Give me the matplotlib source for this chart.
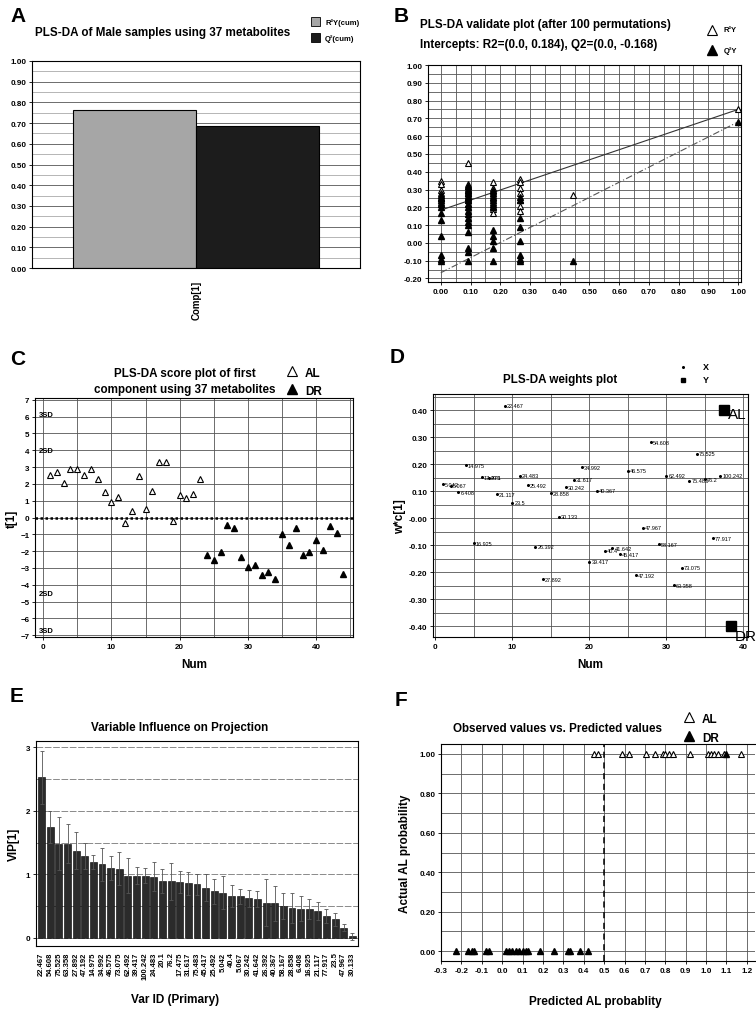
import matplotlib.pyplot as plt
from matplotlib.lines import Line2D
from matplotlib.patches import Rectangle
import numpy as np

plt.rcParams['font.family'] = ['Liberation Sans', 'DejaVu Sans']
plt.rcParams['font.weight'] = 'bold'
plt.rcParams['axes.labelweight'] = 'bold'

# ---------------- data ----------------
# A: cumulative R2Y / Q2 for component 1
comp_labels = ['R²Y(cum)', 'Q²(cum)']
comp_values = [0.765, 0.685]

# B: permutation test
r2_intercept = 0.184
q2_intercept = -0.168
perm_r2_x = [0.0] * 8 + [0.09] * 12 + [0.175] * 9 + [0.265] * 7 + [0.445, 1.0]
perm_r2 = [0.35, 0.33, 0.30, 0.28, 0.26, 0.25, 0.23, 0.22,
           0.45, 0.33, 0.32, 0.31, 0.30, 0.29, 0.28, 0.27, 0.26, 0.25, 0.24, 0.22,
           0.34, 0.31, 0.29, 0.27, 0.25, 0.23, 0.21, 0.19, 0.17,
           0.36, 0.34, 0.31, 0.28, 0.24, 0.21, 0.18,
           0.27, 0.75]
perm_q2_x = [0.0] * 11 + [0.09] * 16 + [0.175] * 11 + [0.265] * 8 + [0.445, 1.0]
perm_q2 = [0.27, 0.25, 0.24, 0.22, 0.20, 0.17, 0.13, 0.04, -0.07, -0.09, -0.10,
           0.32, 0.30, 0.28, 0.26, 0.24, 0.22, 0.20, 0.18, 0.16, 0.14, 0.12, 0.10, 0.06, -0.03, -0.05, -0.10,
           0.30, 0.28, 0.26, 0.24, 0.22, 0.20, 0.07, 0.04, 0.01, -0.03, -0.10,
           0.26, 0.24, 0.14, 0.09, 0.01, -0.07, -0.09, -0.10,
           -0.10, 0.68]

# C: scores t[1]
al_num = list(range(1, 24))
al_score = [2.5, 2.7, 2.05, 2.9, 2.9, 2.55, 2.9, 2.3, 1.5, 0.9, 1.2, -0.3, 0.4,
            2.45, 0.5, 1.6, 3.3, 3.3, -0.2, 1.35, 1.15, 1.4, 2.3]
dr_num = list(range(24, 45))
dr_score = [-2.2, -2.5, -2.05, -0.45, -0.65, -2.35, -2.95, -2.85, -3.4, -3.25, -3.65,
            -1.0, -1.65, -0.6, -2.2, -2.05, -1.35, -1.95, -0.5, -0.9, -3.35]
sd_labels = ['3SD', '2SD', '2SD', '3SD']
sd_levels = [6.1, 4.0, -4.5, -6.7]

# D: weights w*c[1]
var_ids = ['5.042', '5.067', '6.408', '14.975', '16.925', '17.475', '20.1', '21.117',
           '22.467', '23.5', '24.483', '25.492', '26.392', '27.892', '28.858', '30.133',
           '30.242', '31.617', '34.992', '39.417', '40.367', '40.4', '41.642', '45.417',
           '46.575', '47.192', '47.967', '54.608', '58.167', '62.492', '63.358', '73.075',
           '75.483', '75.525', '76.2', '77.917', '100.242']
var_weight = [0.125, 0.12, 0.097, 0.196, -0.092, 0.151, 0.15, 0.089,
              0.416, 0.058, 0.158, 0.122, -0.106, -0.227, 0.093, 0.005,
              0.114, 0.143, 0.189, -0.161, 0.102, -0.12, -0.112, -0.134,
              0.176, -0.212, -0.035, 0.282, -0.096, 0.158, -0.248, -0.184,
              0.139, 0.238, 0.145, -0.075, 0.158]
y_names = ['AL', 'DR']
y_num = [37.5, 38.4]
y_weight = [0.40, -0.40]

# E: VIP
vip_ids = ['22.467', '54.608', '75.525', '63.358', '27.892', '47.192', '14.975', '34.992',
           '46.575', '73.075', '62.492', '39.417', '100.242', '24.483', '20.1', '76.2',
           '17.475', '31.617', '75.483', '45.417', '25.492', '5.042', '40.4', '5.067',
           '30.242', '41.642', '26.392', '40.367', '58.167', '28.858', '6.408', '16.925',
           '21.117', '77.917', '23.5', '47.967', '30.133']
vip = [2.53, 1.74, 1.48, 1.48, 1.37, 1.29, 1.19, 1.16, 1.10, 1.09, 0.98, 0.98, 0.98,
       0.96, 0.89, 0.89, 0.88, 0.86, 0.84, 0.79, 0.73, 0.71, 0.66, 0.65, 0.62, 0.61,
       0.55, 0.54, 0.50, 0.47, 0.46, 0.45, 0.42, 0.34, 0.29, 0.16, 0.02]
vip_err = [0.42, 0.25, 0.42, 0.31, 0.29, 0.20, 0.11, 0.26, 0.19, 0.26, 0.27, 0.14, 0.12,
           0.23, 0.19, 0.29, 0.17, 0.18, 0.16, 0.21, 0.20, 0.26, 0.17, 0.12, 0.14, 0.13,
           0.37, 0.28, 0.21, 0.23, 0.20, 0.16, 0.14, 0.11, 0.10, 0.05, 0.05]

# F: observed vs predicted
al_pred = [0.452, 0.469, 0.587, 0.62, 0.707, 0.748, 0.789, 0.80, 0.82, 0.838, 0.92,
           1.01, 1.025, 1.04, 1.06, 1.09, 1.17]
al_obs = [1.0] * len(al_pred)
dr_pred = [-0.228, -0.167, -0.149, -0.138, -0.08, -0.064, 0.018, 0.034, 0.05, 0.067,
           0.084, 0.10, 0.116, 0.128, 0.185, 0.252, 0.321, 0.334, 0.384, 0.42, 1.10]
dr_obs = [0.0] * 20 + [1.0]

# ---------------- figure ----------------
W, H = 756, 1012
fig = plt.figure(figsize=(W / 100, H / 100), dpi=100)


def px_axes(l, t, r, b):
    return fig.add_axes([l / W, 1 - b / H, (r - l) / W, (b - t) / H])


def px_text(x, y, s, **kw):
    fig.text(x / W, 1 - y / H, s, **kw)


def px_marker(x, y, **kw):
    fig.add_artist(Line2D([x / W], [1 - y / H], transform=fig.transFigure, **kw))


grid_kw = dict(color='#555555', lw=0.6)
open_tri = dict(marker='^', mfc='white', mec='black', mew=0.8, ls='none')
full_tri = dict(marker='^', mfc='black', mec='black', ls='none')


def style(ax):
    for s in ax.spines.values():
        s.set_color('black')
        s.set_linewidth(0.8)
    ax.tick_params(labelsize=5.8, length=2, width=0.6, pad=2)
    for lab in ax.get_xticklabels() + ax.get_yticklabels():
        lab.set_fontweight('bold')
    ax.set_axisbelow(True)


panel_kw = dict(fontsize=15, fontweight='bold', va='center', ha='left')
title_kw = dict(fontsize=8.4, fontweight='bold', va='center')

# ---- A ----
axA = px_axes(32, 62, 360, 269)
axA.bar([-0.5, 0.5], comp_values, width=1.0, color=['#a6a6a6', '#1c1c1c'],
        edgecolor='black', linewidth=0.8)
axA.set_xlim(-1.33, 1.33)
axA.set_ylim(0, 1.0)
axA.set_yticks(np.arange(0, 1.01, 0.1))
axA.set_yticklabels([f'{v:.2f}' for v in np.arange(0, 1.01, 0.1)])
axA.set_yticks(np.arange(0.05, 1.0, 0.1), minor=True)
axA.grid(axis='y', which='major', **grid_kw)
axA.grid(axis='y', which='minor', color='#999999', lw=0.5)
axA.set_xticks([])
axA.tick_params(axis='y', which='minor', length=0)
style(axA)
px_text(197, 300, 'Comp[1]', fontsize=7, rotation=90, ha='center', va='center')
px_text(10, 17, 'A', **panel_kw)
px_text(35, 33, 'PLS-DA of Male samples using 37 metabolites', ha='left', **title_kw)
fig.add_artist(Rectangle(((311) / W, 1 - 27 / H), 9 / W, 9 / H, transform=fig.transFigure,
                         facecolor='#a6a6a6', edgecolor='black', lw=0.6))
fig.add_artist(Rectangle(((311) / W, 1 - 43 / H), 9 / W, 9 / H, transform=fig.transFigure,
                         facecolor='#1c1c1c', edgecolor='black', lw=0.6))
px_text(325, 23, comp_labels[0], fontsize=5.5, ha='left', va='center')
px_text(325, 39, comp_labels[1], fontsize=5.5, ha='left', va='center')

# ---- B ----
axB = px_axes(428, 66, 741, 283)
axB.plot([0, perm_r2_x[-1]], [r2_intercept, perm_r2[-1]], color='#333333', lw=0.8)
axB.plot([0, perm_q2_x[-1]], [q2_intercept, perm_q2[-1]], color='#555555', lw=0.8,
         ls=(0, (6, 2, 1, 2)))
axB.plot(perm_r2_x, perm_r2, ms=4, **open_tri)
axB.plot(perm_q2_x, perm_q2, ms=4, **full_tri)
axB.set_xlim(-0.043, 1.01)
axB.set_ylim(-0.22, 1.0)
axB.set_xticks(np.arange(0, 1.01, 0.1))
axB.set_xticklabels([f'{v:.2f}' for v in np.arange(0, 1.01, 0.1)])
axB.set_yticks(np.arange(-0.2, 1.01, 0.1))
axB.set_yticklabels([f'{v:.2f}' for v in np.arange(-0.2, 1.01, 0.1)])
axB.set_xticks(np.arange(0.05, 1.0, 0.1), minor=True)
axB.set_yticks(np.arange(-0.15, 1.0, 0.1), minor=True)
axB.grid(which='both', **grid_kw)
axB.tick_params(which='minor', length=0)
style(axB)
px_text(394, 17, 'B', **panel_kw)
px_text(420, 25, 'PLS-DA validate plot (after 100 permutations)', ha='left', **title_kw)
px_text(420, 45, 'Intercepts: R2=(0.0, 0.184), Q2=(0.0, -0.168)', ha='left', **title_kw)
px_marker(712, 31, ms=7, **open_tri)
px_marker(712, 51, ms=7, **full_tri)
px_text(724, 31, 'R²Y', fontsize=5.5, ha='left', va='center')
px_text(724, 51, 'Q²Y', fontsize=5.5, ha='left', va='center')

# ---- C ----
axC = px_axes(35, 399, 353, 638)
axC.axhline(0, color='black', ls=(0, (1, 1)), lw=1.8)
axC.plot(al_num, al_score, ms=5, **open_tri)
axC.plot(dr_num, dr_score, ms=5, **full_tri)
for lab, lev in zip(sd_labels, sd_levels):
    axC.text(-0.7, lev, lab, fontsize=5.5, ha='left', va='center')
axC.set_xlim(-1.2, 45.4)
axC.set_ylim(-7.1, 7.1)
axC.set_xticks(range(0, 41, 10))
axC.set_xticks(range(5, 46, 10), minor=True)
axC.set_yticks(range(-7, 8))
axC.grid(which='both', **grid_kw)
axC.tick_params(which='minor', length=0)
axC.set_xlabel('Num', fontsize=8.5, labelpad=6)
axC.set_ylabel('t[1]', fontsize=8.5, labelpad=2)
style(axC)
px_text(10, 360, 'C', **panel_kw)
px_text(185, 374, 'PLS-DA score plot of first', ha='center', **title_kw)
px_text(185, 390, 'component using 37 metabolites', ha='center', **title_kw)
px_marker(292, 372, ms=7, **open_tri)
px_marker(292, 390, ms=7, **full_tri)
px_text(305, 374, 'AL', fontsize=8.5, ha='left', va='center')
px_text(305, 392, 'DR', fontsize=8.5, ha='left', va='center')

# ---- D ----
axD = px_axes(433, 395, 748, 638)
var_num = list(range(1, len(var_ids) + 1))
axD.plot(var_num, var_weight, ls='none', marker='o', ms=1.2, color='black')
for n, w, lab in zip(var_num, var_weight, var_ids):
    axD.text(n + 0.25, w, lab, fontsize=4.0, ha='left', va='center', fontweight='normal')
axD.plot(y_num, y_weight, ls='none', marker='s', ms=7, color='black')
axD.text(y_num[0] + 0.5, y_weight[0] - 0.015, y_names[0], fontsize=11, fontweight='normal',
         ha='left', va='center')
axD.text(y_num[1] + 0.5, y_weight[1] - 0.035, y_names[1], fontsize=11, fontweight='normal',
         ha='left', va='center', clip_on=False)
axD.set_xlim(-0.3, 40.6)
axD.set_ylim(-0.44, 0.46)
axD.set_xticks(range(0, 41, 10))
axD.set_xticks(range(5, 41, 10), minor=True)
axD.set_yticks(np.arange(-0.4, 0.41, 0.1))
axD.set_yticklabels([f'{v:.2f}' for v in np.arange(-0.4, 0.41, 0.1)])
axD.set_yticks(np.arange(-0.35, 0.46, 0.1), minor=True)
axD.grid(which='both', **grid_kw)
axD.tick_params(which='minor', length=0)
axD.set_xlabel('Num', fontsize=8.5, labelpad=6)
axD.set_ylabel('w*c[1]', fontsize=8.5, labelpad=2)
style(axD)
px_text(390, 358, 'D', **panel_kw)
px_text(560, 380, 'PLS-DA weights plot', ha='center', **title_kw)
px_marker(683, 368, marker='o', ms=1.2, color='black', ls='none')
px_marker(683, 381, marker='s', ms=2.5, color='black', ls='none')
px_text(706, 368, 'X', fontsize=6.5, ha='center', va='center')
px_text(706, 381, 'Y', fontsize=6.5, ha='center', va='center')

# ---- E ----
axE = px_axes(36, 742, 358, 947)
pos = np.arange(len(vip))
axE.bar(pos, vip, width=0.8, color='#2b2b2b', edgecolor='black', linewidth=0.4,
        yerr=vip_err, ecolor='#555555', error_kw=dict(elinewidth=0.6, capsize=1.2, capthick=0.6))
axE.set_xlim(-0.65, len(vip) - 0.35)
axE.set_ylim(-0.13, 3.1)
axE.set_yticks([0, 1, 2, 3])
axE.set_yticks([0.5, 1.5, 2.5], minor=True)
axE.grid(axis='y', which='both', color='#777777', lw=0.6, ls=(0, (8, 2)))
axE.tick_params(axis='y', which='minor', length=0)
axE.set_xticks(pos)
axE.set_xticklabels(vip_ids, rotation=90)
axE.set_ylabel('VIP[1]', fontsize=8.5, labelpad=4)
style(axE)
axE.tick_params(axis='x', length=0, labelsize=5.5, pad=4)
px_text(175, 1000, 'Var ID (Primary)', fontsize=8.5, ha='center', va='center')
px_text(10, 697, 'E', **panel_kw)
px_text(180, 728, 'Variable Influence on Projection', ha='center', **title_kw)

# ---- F ----
axF = px_axes(441, 745, 755, 962)
axF.axvline(0.5, color='black', ls=(0, (4, 3)), lw=1.1)
axF.plot(al_pred, al_obs, ms=5, **open_tri)
axF.plot(dr_pred, dr_obs, ms=5, **full_tri)
axF.set_xlim(-0.3, 1.24)
axF.set_ylim(-0.05, 1.05)
axF.set_xticks(np.arange(-0.3, 1.21, 0.1))
axF.set_xticklabels([f'{v:.1f}' for v in np.arange(-0.3, 1.21, 0.1)])
axF.set_yticks(np.arange(0, 1.01, 0.2))
axF.set_yticklabels([f'{v:.2f}' for v in np.arange(0, 1.01, 0.2)])
axF.set_yticks(np.arange(0.1, 1.0, 0.2), minor=True)
axF.grid(which='both', **grid_kw)
axF.tick_params(which='minor', length=0)
axF.set_ylabel('Actual AL probability', fontsize=8.5, labelpad=6)
style(axF)
axF.spines['right'].set_visible(False)
px_text(595, 1002, 'Predicted AL probablity', fontsize=8.5, ha='center', va='center')
px_text(395, 700, 'F', **panel_kw)
px_text(453, 729, 'Observed values vs. Predicted values', ha='left', **title_kw)
px_marker(689, 718, ms=7, **open_tri)
px_marker(689, 737, ms=7, **full_tri)
px_text(702, 720, 'AL', fontsize=8.5, ha='left', va='center')
px_text(702, 739, 'DR', fontsize=8.5, ha='left', va='center')

fig.savefig('out.png', dpi=100)
